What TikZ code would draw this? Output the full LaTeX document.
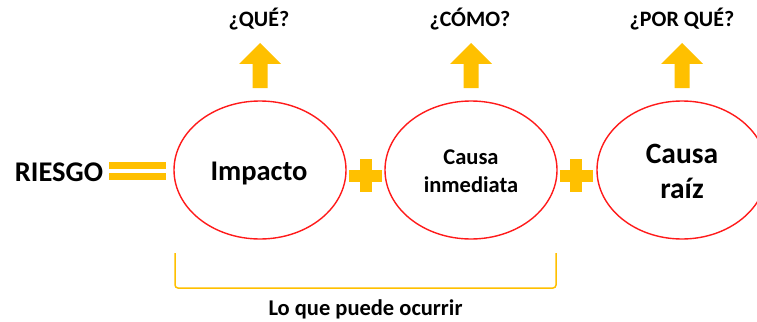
\documentclass[tikz,border=0pt]{standalone}
\usepackage{fontspec}
\setmainfont{Carlito}
\usetikzlibrary{shapes.geometric}
\definecolor{gold}{HTML}{FFC000}
\definecolor{ered}{HTML}{FF1A1A}
\begin{document}
\begin{tikzpicture}[x=1pt,y=-1pt,
  oval/.style={draw=ered,line width=1.4pt,ellipse,minimum width=172pt,minimum height=138pt,inner sep=0pt},
  txt/.style={anchor=base,inner sep=0pt,align=center},
  big/.style={txt,font=\bfseries\fontsize{28.5}{35}\selectfont},
  mid/.style={txt,font=\bfseries\fontsize{22.5}{28}\selectfont},
  quest/.style={txt,font=\bfseries\fontsize{22}{26}\selectfont},
  uparrow/.pic={\fill[gold] (-7.5,0) -- (-7.5,-24) -- (-21,-24) -- (0,-45) -- (21,-24) -- (7.5,-24) -- (7.5,0) -- cycle;},
  plussign/.pic={\fill[gold] (-16.5,-6) rectangle (16.5,6); \fill[gold] (-6,-16.5) rectangle (6,16.5);}
]
\clip (0,0) rectangle (757,321);
\fill[white] (0,0) rectangle (757,321);

% ellipses
\node[oval] (e1) at (260,170) {};
\node[oval] (e2) at (471,170) {};
\node[oval,minimum width=170pt] (e3) at (682,170) {};

% texts inside
\node[big] (t1) at (259,180) {Impacto};
\node[mid] (t2) at (471,192) {Causa\\inmediata};
\node[big,font=\bfseries\fontsize{29.5}{35}\selectfont] (t3) at (682,198) {Causa\\raíz};

% left side
\node[big] (riesgo) at (59,181) {RIESGO};
\fill[gold] (109,162) rectangle (166,169);
\fill[gold] (109,173) rectangle (166,180);

% plus signs
\pic at (365.5,175.5) {plussign};
\pic at (576,175.5) {plussign};

% arrows and questions
\pic at (260,88) {uparrow};
\pic at (471,88) {uparrow};
\pic at (682,88) {uparrow};
\node[quest] (q1) at (259,27) {¿QUÉ?};
\node[quest] (q2) at (470,27) {¿CÓMO?};
\node[quest] (q3) at (682,27) {¿POR QUÉ?};

% bracket
\coordinate (b1) at (175,253);
\coordinate (b2) at (556,253);
\draw[gold,line width=1.5pt,rounded corners=3pt] (b1) -- (b1 |- 0,288) -- (b2 |- 0,288) -- (b2);
\node[mid] (bottom) at (365.5,315) {Lo que puede ocurrir};
\end{tikzpicture}
\end{document}
